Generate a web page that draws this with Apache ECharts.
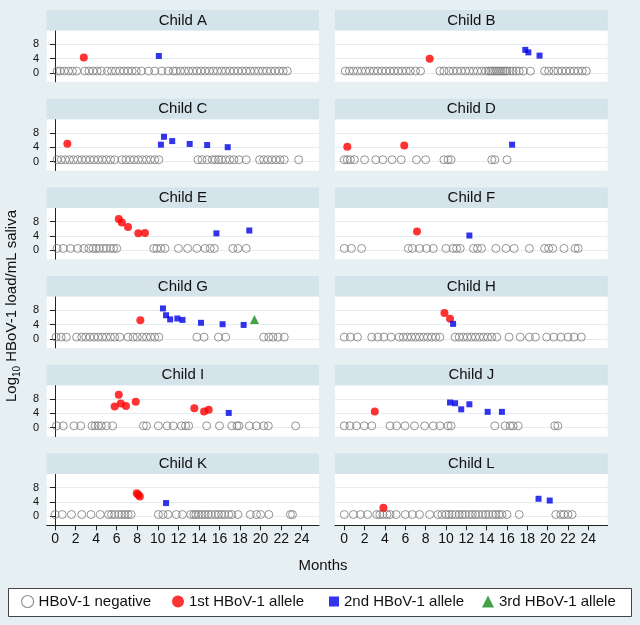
<!DOCTYPE html>
<html><head><meta charset="utf-8">
<script src="https://cdn.jsdelivr.net/npm/echarts@6/dist/echarts.min.js"></script>
<style>html,body{margin:0;padding:0;background:#e6eff2}#c{width:640px;height:625px}</style>
</head><body><div id="c"></div>
<script>
const childNames = ['Child A','Child B','Child C','Child D','Child E','Child F','Child G','Child H','Child I','Child J','Child K','Child L'];
const monthTicks = [0,2,4,6,8,10,12,14,16,18,20,22,24];
const loadTicks = [0,4,8];
const negLevel = 0.5;

const negA = [0.2,0.5,0.9,1.3,1.7,2.1, 2.9,3.3,3.7,4.1,4.5, 5.1,5.5,5.9,6.3,6.7,7.1,7.5,7.9, 8.4,9.1,9.7,10.4,11.0, 11.5,11.8,12.2,12.6,13.0,13.4,13.8,14.2,14.6,15.0,15.4,15.8,16.2,16.6,17.0,17.4,17.8,18.2,18.6,19.0,19.4,19.8,20.2,20.6,21.0,21.4,21.8,22.2,22.6];
const firstA = [[2.8,4.3]];
const secondA = [[10.1,4.7]];

const negB = [0.1,0.5,0.9,1.3,1.7,2.1,2.5,2.9,3.3,3.7,4.1,4.5,4.9,5.3,5.7,6.1,6.5,7.0,7.5, 9.4,9.8,10.3,10.7,11.1,11.5,11.9,12.3,12.7,13.1,13.5,13.9,14.2,14.4,14.6,14.8,15.0,15.2,15.4,15.6,15.8,16.0,16.3,16.6,16.9,17.2,17.6,18.3, 19.7,20.1,20.6,21.0,21.4,21.8,22.2,22.6,23.0,23.4,23.8];
const firstB = [[8.4,3.9]];
const secondB = [[17.8,6.4],[18.1,5.7],[19.2,4.8]];

const negC = [0.2,0.6,1.0,1.4,1.8,2.2,2.6,3.0,3.4,3.8,4.2,4.6,5.0,5.4,5.8, 6.5,6.9,7.3,7.7,8.1,8.5,8.9,9.3,9.7,10.1, 13.9,14.3,14.8,15.3,15.6,15.9,16.2,16.6,17.0,17.4,17.9,18.6, 19.9,20.3,20.7,21.1,21.5,21.9,22.3,23.7];
const firstC = [[1.2,4.95]];
const secondC = [[10.3,4.7],[10.6,6.9],[11.4,5.7],[13.1,4.9],[14.8,4.6],[16.8,4.0]];

const negD = [0.0,0.3,0.6,1.0,2.0,3.1,3.8,4.7,5.6,7.1,8.0,9.8,10.2,10.5,14.5,14.8,16.0];
const firstD = [[0.3,4.1],[5.9,4.5]];
const secondD = [[16.5,4.7]];

const negE = [0.2,0.8,1.5,2.2,2.8,3.3,3.7,4.0,4.3,4.7,5.0,5.4,5.7,6.0, 9.6,9.9,10.3,10.7, 12.0,12.9,13.8,14.6,15.1,15.5, 17.3,17.8,18.6];
const firstE = [[6.2,8.7],[6.5,7.7],[7.1,6.5],[8.1,4.7],[8.75,4.8]];
const secondE = [[15.7,4.7],[18.9,5.5]];

const negF = [0.0,0.7,1.7, 6.3,6.7,7.4,8.1,8.75, 10.0,10.7,11.05,11.4, 12.7,13.1,13.5, 14.9,15.9,16.7, 18.2, 19.7,20.1,20.5, 21.6, 22.7,23.0];
const firstF = [[7.15,5.2]];
const secondF = [[12.3,4.1]];

const negG = [0.1,0.6,1.1, 2.1,2.6,3.0,3.4,3.8,4.2,4.6,5.0,5.4,5.8,6.3, 7.1,7.6,8.0,8.5,8.9,9.3,9.7,10.1, 13.8,14.5, 15.9,16.6, 20.3,20.8,21.2,21.7,22.3];
const firstG = [[8.3,5.2]];
const secondG = [[10.5,8.5],[10.8,6.6],[11.2,5.45],[11.9,5.7],[12.4,5.3],[14.2,4.5],[16.3,4.1],[18.35,3.9]];
const thirdG = [[19.4,5.4]];

const negH = [0.0,0.6,1.3, 2.7,3.3,3.9,4.6, 5.4,5.8,6.2,6.6,7.0,7.4,7.8,8.2,8.6,9.0,9.4, 10.9,11.3,11.7,12.1,12.5,12.9,13.3,13.7,14.1,14.5,15.0, 16.2,17.3,18.2,18.8, 19.9,20.6,21.3,22.0,22.6,23.3];
const firstH = [[9.85,7.2],[10.4,5.6]];
const secondH = [[10.7,4.2]];

const negI = [0.15,0.8, 1.85,2.5, 3.6,3.9,4.2,4.5,5.0,5.6, 8.6,8.9, 10.05,10.9,11.5, 12.3,12.7,13.0, 14.75, 16.0, 17.2,17.7,17.9, 18.9,19.6,20.3,20.75, 23.4];
const firstI = [[5.8,5.9],[6.2,9.2],[6.4,6.7],[6.9,6.0],[7.85,7.2],[13.55,5.4],[14.5,4.5],[14.95,5.0]];
const secondI = [[16.9,4.1]];

const negJ = [0.0,0.56,1.2,1.97,2.7, 4.5,5.15,5.97,6.9,7.9,8.75,9.4,10.2,10.5, 14.8,15.8,16.3,16.6,17.1, 20.7,21.0];
const firstJ = [[3.0,4.5]];
const secondJ = [[10.4,7.0],[10.9,6.8],[11.5,5.1],[12.3,6.5],[14.1,4.4],[15.5,4.4]];

const negK = [0.0,0.7,1.6,2.6,3.5,4.4,5.2,5.5,5.8,6.2,6.5,6.8,7.1,7.4, 10.05,10.5,11.0, 11.8,12.4, 13.2,13.5,13.7,14.0,14.3,14.6,14.9,15.2,15.6,15.9,16.2,16.5,16.9,17.2,17.8, 19.0,19.6,20.0,20.8, 22.9,23.1];
const firstK = [[7.95,6.4],[8.1,6.0],[8.25,5.5]];
const secondK = [[10.8,3.7]];

const negL = [0.0,0.9,1.6,2.3, 3.2,3.5,3.8,4.2,4.5, 5.1,6.0,6.7,7.4, 8.4, 9.2,9.6,10.0,10.3,10.6,10.95,11.3,11.6,11.9,12.3,12.6,12.9,13.2,13.6,13.9,14.2,14.6,14.9,15.2,15.5,16.0, 17.2, 20.8,21.3,21.6,22.0,22.4];
const firstL = [[3.85,2.4]];
const secondL = [[19.1,4.9],[20.2,4.4]];

const seriesNames = ['HBoV-1 negative','1st HBoV-1 allele','2nd HBoV-1 allele','3rd HBoV-1 allele'];

const negs = [negA,negB,negC,negD,negE,negF,negG,negH,negI,negJ,negK,negL];
const firsts = [firstA,firstB,firstC,firstD,firstE,firstF,firstG,firstH,firstI,firstJ,firstK,firstL];
const seconds = [secondA,secondB,secondC,secondD,secondE,secondF,secondG,secondH,secondI,secondJ,secondK,secondL];
const thirds = [[],[],[],[],[],[],thirdG,[],[],[],[],[]];

const FONT = "'Liberation Sans', Arial, Helvetica, sans-serif";
const BG = '#e6eff2', STRIP = '#d5e3ea', GRIDLINE = '#e3ecf0';
const RED = '#ff0000', BLUE = '#0000e6', GREEN = '#168a16', GRAY = '#7a7a7a';

const grids = [], xAxes = [], yAxes = [], series = [], graphics = [];
for (let i = 0; i < 12; i++) {
  const col = i % 2, row = Math.floor(i / 2);
  const gl = col ? 335 : 46.7, gw = col ? 272.7 : 272.3;
  const st = 10 + 88.7 * row;
  const bottom = row === 5;
  grids.push({left: gl, top: st + 20.5, width: gw, height: 51.3, show: true, backgroundColor: '#fff', borderWidth: 0, containLabel: false, outerBoundsMode: 'none'});
  xAxes.push({
    type: 'value', gridIndex: i, min: col ? -0.91 : -0.81, max: col ? 25.9 : 25.68,
    show: bottom,
    axisLine: {show: true, onZero: false, lineStyle: {color: '#222', width: 1}},
    axisTick: {show: true, length: 5, customValues: monthTicks, lineStyle: {color: '#222'}},
    axisLabel: {show: true, customValues: monthTicks, margin: 7, fontSize: 14, color: '#111', fontFamily: FONT},
    splitLine: {show: false}
  });
  yAxes.push({
    type: 'value', gridIndex: i, min: -2.5, max: 11.8,
    axisLine: {show: col === 0, lineStyle: {color: '#222', width: 1}},
    axisTick: {show: col === 0, length: 5, customValues: loadTicks, lineStyle: {color: '#222'}},
    axisLabel: {show: col === 0, customValues: loadTicks, margin: 7.5, fontSize: 11, color: '#111', fontFamily: FONT},
    splitLine: {show: true, lineStyle: {color: GRIDLINE, width: 1}}
  });
  series.push({
    type: 'scatter', name: seriesNames[0], xAxisIndex: i, yAxisIndex: i,
    data: negs[i].map(m => [m, negLevel]), symbol: 'circle', symbolSize: 8,
    itemStyle: {color: 'rgba(255,255,255,0)', borderColor: GRAY, borderWidth: 1}, z: 2, silent: true
  });
  series.push({
    type: 'scatter', name: seriesNames[1], xAxisIndex: i, yAxisIndex: i,
    data: firsts[i], symbol: 'circle', symbolSize: 8, itemStyle: {color: RED}, z: 3, silent: true
  });
  series.push({
    type: 'scatter', name: seriesNames[2], xAxisIndex: i, yAxisIndex: i,
    data: seconds[i], symbol: 'rect', symbolSize: 6, itemStyle: {color: BLUE}, z: 3, silent: true
  });
  if (thirds[i].length) series.push({
    type: 'scatter', name: seriesNames[3], xAxisIndex: i, yAxisIndex: i,
    data: thirds[i], symbol: 'triangle', symbolSize: 9, itemStyle: {color: GREEN}, z: 3, silent: true
  });
  graphics.push({type: 'rect', z: 1, shape: {x: gl, y: st, width: gw, height: 20.5}, style: {fill: STRIP}});
  graphics.push({type: 'text', z: 2, style: {text: childNames[i], x: gl + gw / 2, y: st + 10.5, align: 'center', verticalAlign: 'middle', fontSize: 15, fontFamily: FONT, fill: '#111'}});
}

graphics.push({type: 'rect', z: 1, shape: {x: 8.5, y: 588.5, width: 623, height: 28}, style: {fill: '#fff', stroke: '#444', lineWidth: 1}});
graphics.push({type: 'text', z: 2, style: {text: 'Months', x: 323, y: 566, align: 'center', verticalAlign: 'middle', fontSize: 15, fontFamily: FONT, fill: '#111'}});
graphics.push({type: 'text', z: 2, x: 12, y: 306, rotation: Math.PI / 2,
  style: {text: '{a|Log}{s|10}{a| HBoV-1 load/mL saliva}', align: 'center', verticalAlign: 'middle', fontFamily: FONT, fill: '#111',
    rich: {a: {fontSize: 15, lineHeight: 20, fontFamily: FONT, fill: '#111'}, s: {fontSize: 10, lineHeight: 12, verticalAlign: 'bottom', fontFamily: FONT, fill: '#111'}}}});

const legendBase = {top: 594, padding: 0, selectedMode: false, itemGap: 0, textStyle: {fontSize: 15, color: '#111', fontFamily: FONT}, z: 5};
const chart = echarts.init(document.getElementById('c'), null, {renderer: 'canvas'});
chart.setOption({
  backgroundColor: BG,
  animation: false,
  grid: grids, xAxis: xAxes, yAxis: yAxes, series: series,
  legend: [
    Object.assign({}, legendBase, {data: [seriesNames[0]], left: 21, itemWidth: 12, itemHeight: 12, itemStyle: {color: 'rgba(255,255,255,0)', borderColor: GRAY, borderWidth: 1.2}}),
    Object.assign({}, legendBase, {data: [seriesNames[1]], left: 172, itemWidth: 12, itemHeight: 12}),
    Object.assign({}, legendBase, {data: [seriesNames[2]], left: 329, itemWidth: 10, itemHeight: 10}),
    Object.assign({}, legendBase, {data: [seriesNames[3]], left: 482, itemWidth: 12, itemHeight: 12})
  ],
  graphic: {elements: graphics}
});
</script></body></html>
